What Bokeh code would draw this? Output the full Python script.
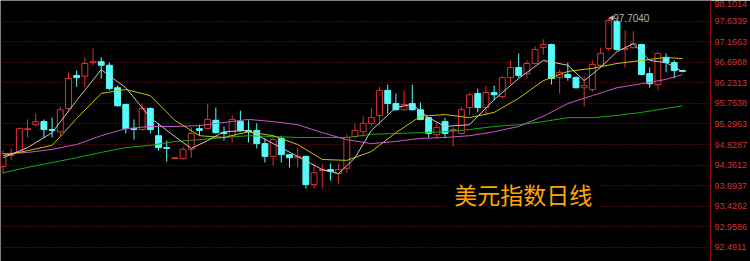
from bokeh.plotting import figure
from bokeh.models import Range1d, FixedTicker, PrintfTickFormatter, Arrow, NormalHead
from bokeh.embed import file_html
from bokeh.resources import INLINE
from bokeh.core.properties import value

# ---- data ----
opens = [94.33, 94.58, 94.65, 95.17, 95.28, 95.35, 95.17, 95.12, 95.65, 96.40,
         96.38, 96.69, 96.71, 96.63, 96.12, 95.74, 95.19, 95.17, 95.65, 95.03,
         94.76, 94.51, 94.51, 94.72, 95.19, 95.19, 95.38, 95.10, 95.03, 95.35,
         95.15, 95.15, 94.85, 94.56, 94.97, 94.60, 94.53, 94.56, 93.92, 94.24,
         94.26, 94.17, 94.29, 95.01, 95.12, 95.31, 95.49, 96.06, 95.76, 95.62,
         95.76, 95.62, 95.44, 95.06, 95.35, 95.15, 95.08, 95.67, 95.99, 95.67,
         96.01, 95.92, 96.35, 96.58, 96.44, 96.67, 97.03, 97.10, 96.35, 96.42,
         96.35, 96.12, 96.08, 96.63, 97.01, 97.62, 96.99, 97.03, 97.10, 96.44,
         96.19, 96.81, 96.69, 96.51]
highs = [94.69, 94.74, 95.22, 95.40, 95.53, 95.40, 95.44, 95.69, 96.47, 96.51,
         96.81, 97.01, 96.81, 96.69, 96.17, 95.76, 95.40, 95.76, 95.67, 95.31,
         94.92, 94.53, 94.78, 95.22, 95.28, 95.76, 95.67, 95.24, 95.49, 95.60,
         95.38, 95.31, 94.97, 95.03, 95.03, 94.60, 94.76, 94.58, 94.40, 94.38,
         94.40, 94.40, 95.06, 95.31, 95.47, 95.65, 96.14, 96.19, 95.99, 96.06,
         96.19, 95.78, 95.44, 95.33, 95.44, 95.22, 95.69, 96.01, 96.10, 96.17,
         96.17, 96.38, 96.74, 96.90, 96.74, 97.06, 97.22, 97.12, 96.53, 96.69,
         96.38, 96.38, 96.74, 97.03, 97.704, 97.67, 97.42, 97.40, 97.12, 96.58,
         96.92, 96.90, 96.74, 96.53]
lows = [94.17, 94.47, 94.62, 94.99, 95.24, 94.99, 94.99, 95.03, 95.56, 96.14,
        96.14, 96.63, 96.33, 96.06, 95.69, 95.08, 94.94, 95.15, 95.08, 94.69,
        94.44, 94.51, 94.49, 94.53, 95.03, 95.17, 95.08, 94.92, 94.88, 95.12,
        94.88, 94.74, 94.42, 94.35, 94.42, 94.31, 94.31, 93.83, 93.83, 93.83,
        94.01, 93.94, 94.19, 94.97, 95.01, 95.26, 95.26, 95.53, 95.60, 95.60,
        95.60, 95.38, 94.99, 94.97, 94.97, 94.78, 95.06, 95.49, 95.56, 95.49,
        95.83, 95.88, 96.21, 96.35, 96.35, 96.65, 96.87, 96.19, 95.99, 96.28,
        96.10, 95.69, 96.03, 96.58, 96.96, 96.96, 96.58, 97.01, 96.40, 96.12,
        96.06, 96.47, 96.33, 96.47]
closes = [94.62, 94.60, 95.19, 95.19, 95.35, 95.17, 95.15, 95.62, 96.33, 96.35,
          96.67, 96.71, 96.63, 96.10, 95.71, 95.19, 95.17, 95.65, 95.17, 94.76,
          94.74, 94.53, 94.72, 95.08, 95.15, 95.40, 95.10, 95.08, 95.40, 95.15,
          95.12, 94.85, 94.56, 94.94, 94.60, 94.53, 94.56, 93.92, 94.19, 94.26,
          94.22, 94.26, 94.99, 95.15, 95.31, 95.44, 96.06, 95.76, 95.62, 95.74,
          95.62, 95.40, 95.08, 95.22, 95.08, 95.17, 95.62, 95.96, 95.67, 96.01,
          95.96, 96.35, 96.58, 96.40, 96.67, 96.99, 97.10, 96.33, 96.47, 96.35,
          96.12, 96.17, 96.65, 96.90, 97.65, 96.99, 97.01, 97.12, 96.42, 96.21,
          96.90, 96.69, 96.51, 96.49]

ma5_idx = [0, 3, 6, 9, 12, 15, 18, 21, 23, 25, 27, 30, 33, 36, 39, 41, 43, 45, 48, 50,
           52, 54, 57, 60, 63, 66, 69, 71, 73, 75, 77, 79, 81, 83]
ma5 = [94.53, 94.76, 95.10, 95.83, 96.53, 96.12, 95.44, 95.01, 94.74, 94.92,
       95.12, 95.15, 94.85, 94.56, 94.26, 94.17, 94.53, 95.15, 95.67, 95.74,
       95.44, 95.24, 95.28, 95.85, 96.33, 96.74, 96.63, 96.28, 96.58, 96.94,
       97.12, 96.74, 96.69, 96.49]

ma_idx = [0, 3, 6, 9, 12, 15, 18, 21, 24, 27, 30, 33, 36, 39, 42, 45, 48, 51, 54, 57,
          60, 63, 66, 69, 72, 75, 78, 81, 83]
ma10 = [94.58, 94.69, 94.81, 95.42, 95.99, 96.08, 95.94, 95.38, 95.03, 94.99,
        95.12, 95.03, 94.83, 94.49, 94.47, 94.67, 95.10, 95.47, 95.51, 95.44,
        95.56, 95.88, 96.28, 96.49, 96.56, 96.67, 96.74, 96.81, 96.78]
ma20 = [94.62, 94.65, 94.72, 94.83, 95.03, 95.19, 95.24, 95.24, 95.26, 95.33,
        95.40, 95.35, 95.28, 95.10, 94.94, 94.85, 94.90, 94.97, 94.99, 95.03,
        95.12, 95.24, 95.47, 95.76, 95.94, 96.12, 96.21, 96.31, 96.42]
ma60 = [94.19, 94.31, 94.42, 94.53, 94.65, 94.76, 94.81, 94.90, 94.94, 94.99,
        95.03, 95.01, 94.99, 94.99, 94.99, 95.06, 95.08, 95.10, 95.12, 95.17,
        95.24, 95.28, 95.35, 95.44, 95.44, 95.49, 95.56, 95.65, 95.71]

tick_vals = [92.4911, 92.9586, 93.4262, 93.8937, 94.3612, 94.8287, 95.2963,
             95.7638, 96.2313, 96.6988, 97.1663, 97.6339, 98.1014]
peak_idx = 74
peak_val = 97.704
peak_label = "97.7040"
title_text = "美元指数日线"

# ---- styling ----
UP = "#e03030"
DOWN = "#54fcfc"

p = figure(width=750, height=261, output_backend="svg", toolbar_location=None,
           x_range=Range1d(-0.304, 86.43), y_range=Range1d(92.1725, 98.1014),
           background_fill_color="black", border_fill_color="black",
           outline_line_color=None, min_border=0, min_border_right=37,
           x_axis_location=None, y_axis_location="right")

p.xgrid.visible = False
p.ygrid.ticker = FixedTicker(ticks=tick_vals)
p.ygrid.grid_line_color = "#8a1010"
p.ygrid.grid_line_dash = "1 2"
p.ygrid.grid_line_width = 1

ax = p.yaxis[0]
ax.ticker = FixedTicker(ticks=tick_vals)
ax.formatter = PrintfTickFormatter(format="%.4f")
ax.axis_line_color = "#8a1010"
ax.major_tick_line_color = None
ax.minor_tick_line_color = None
ax.major_tick_out = 0
ax.major_label_standoff = 4
ax.major_label_text_color = "#d83030"
ax.major_label_text_font = "Liberation Sans"
ax.major_label_text_font_size = "9px"

idx = list(range(len(opens)))
up_x, up_o, up_c, up_h, up_l = [], [], [], [], []
dn_x, dn_o, dn_c, dn_h, dn_l = [], [], [], [], []
for i, o, h, l, c in zip(idx, opens, highs, lows, closes):
    if c >= o:
        up_x.append(i); up_o.append(o); up_c.append(c); up_h.append(h); up_l.append(l)
    else:
        dn_x.append(i); dn_o.append(o); dn_c.append(c); dn_h.append(h); dn_l.append(l)

# wicks
p.segment(up_x, up_h, up_x, up_c, line_color=UP, line_width=1)
p.segment(up_x, up_o, up_x, up_l, line_color=UP, line_width=1)
p.segment(dn_x, dn_h, dn_x, dn_l, line_color=DOWN, line_width=1)
# bodies
p.vbar(x=up_x, top=up_c, bottom=up_o, width=0.72, fill_color="black",
       line_color=UP, line_width=1)
p.vbar(x=dn_x, top=dn_o, bottom=dn_c, width=0.72, fill_color=DOWN,
       line_color=DOWN, line_width=1)

# moving averages
p.line(ma_idx, ma60, line_color="#16a816", line_width=1)
p.line(ma_idx, ma20, line_color="#c858c8", line_width=1)
p.line(ma_idx, ma10, line_color="#c8c400", line_width=1)
p.line(ma5_idx, ma5, line_color="#c8c8c8", line_width=1)

# peak marker
p.add_layout(Arrow(end=NormalHead(size=4, fill_color="#b4b4b4", line_color="#b4b4b4"),
                   x_start=peak_idx + 0.55, y_start=peak_val,
                   x_end=peak_idx + 0.05, y_end=peak_val,
                   line_color="#b4b4b4", line_width=1))
p.text(x=[peak_idx + 0.55], y=[peak_val], text=[peak_label],
       text_font=value("Liberation Sans"), text_font_size="10px",
       text_color="#b4b4b4", text_align="left", text_baseline="middle")

# title label with black box
p.quad(left=[54.07], right=[72.93], top=[94.24], bottom=[93.22],
       fill_color="black", line_color=None)
p.text(x=[63.56], y=[93.717], text=[title_text],
       text_font=value("Noto Sans CJK SC"), text_font_size="23px",
       text_color="#FFA500", text_align="center", text_baseline="middle")

open("out.html", "w").write(file_html(p, INLINE))
